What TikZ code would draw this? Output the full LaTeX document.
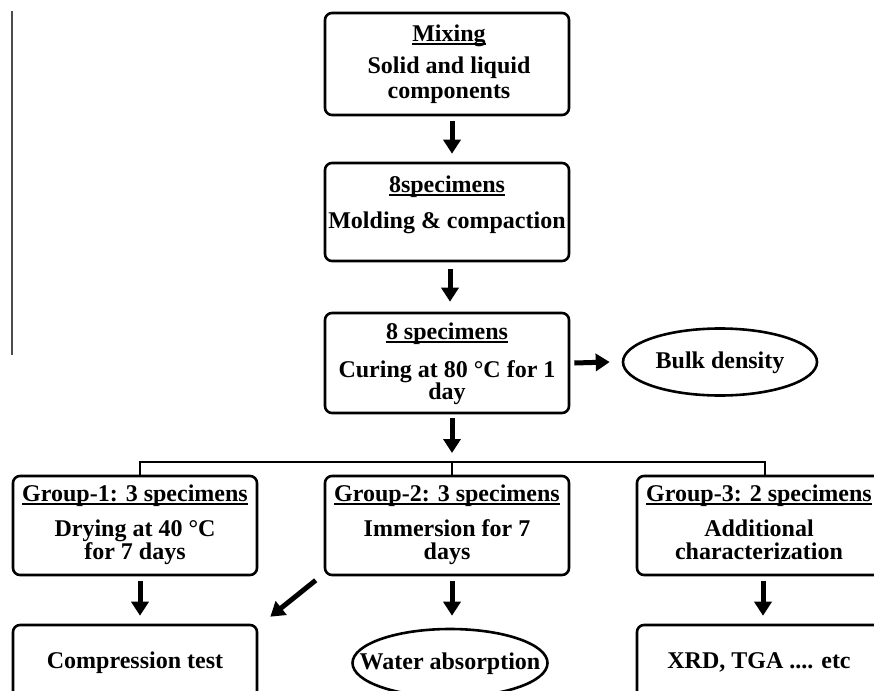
\documentclass[tikz,border=0pt]{standalone}
\usepackage{fontspec}
\setmainfont{Liberation Serif}
\usetikzlibrary{arrows.meta,shapes.geometric}
\newcommand\myul[1]{\setbox0\hbox{#1}\rlap{\rule[-3pt]{\wd0}{1.8pt}}\box0}
\begin{document}
\begin{tikzpicture}[x=1pt,y=-1pt,
  box/.style={draw,line width=2.6pt,rounded corners=7pt,minimum width=244pt,inner sep=0pt},
  oval/.style={draw,ellipse,line width=2.6pt,inner sep=0pt},
  txt/.style={inner sep=0pt,align=center,font=\fontsize{24}{24}\selectfont\bfseries,anchor=north},
  arr/.style={line width=5pt,-{Triangle[width=17pt,length=14pt]}},
  link/.style={line width=2.6pt},
]
\useasboundingbox (0,0) rectangle (874,690);
\clip (0,0) rectangle (874,690);
\fill[white] (0,0) rectangle (874,690);

% stray margin line
\draw[line width=1.5pt,black!70] (12,11) -- (12,355);

% boxes
\node[box,minimum height=102pt] (mix) at (447,64) {};
\node[box,minimum height=98pt] (mold) at (447,212) {};
\node[box,minimum height=100pt] (cure) at (447,363) {};
\node[oval,minimum width=194pt,minimum height=67pt] (bulk) at (720,362) {};
\node[box,minimum height=99pt] (g1) at (135,525.5) {};
\node[box,minimum height=99pt] (g2) at (447,525.5) {};
\node[box,minimum height=99pt] (g3) at (759,525.5) {};
\node[box,minimum height=100pt] (comp) at (135,675) {};
\node[oval,minimum width=195pt,minimum height=68pt] (water) at (450,663) {};
\node[box,minimum height=100pt] (xrd) at (759,675) {};

% texts
\node[txt] (mixt) at (449,25) {\myul{Mixing}\\[8pt]Solid and liquid\\[1pt]components};
\node[txt] (moldt) at (447,176) {\myul{8specimens}\\[12pt]Molding \& compaction};
\node[txt] (curet) at (447,323) {\myul{8 specimens}\\[14pt]Curing at 80 °C for 1\\[-2pt]day};
\node[txt] (bulkt) at (720,352) {Bulk density};
\node[txt] (g1t) at (135,485) {\myul{Group-1: 3 specimens}\\[11pt]Drying at 40 °C\\[-1pt]for 7 days};
\node[txt] (g2t) at (447,485) {\myul{Group-2: 3 specimens}\\[11pt]Immersion for 7\\[-1pt]days};
\node[txt] (g3t) at (759,485) {\myul{Group-3: 2 specimens}\\[11pt]Additional\\[-1pt]characterization};
\node[txt] (compt) at (135,652) {Compression test};
\node[txt] (watert) at (450,653) {Water absorption};
\node[txt] (xrdt) at (759,652) {XRD, TGA .... etc};

% connectors
\coordinate (bus) at (452,462);
\draw[arr] ([xshift=5pt,yshift=-5pt]mix.south) -- ([xshift=5pt,yshift=8pt]mold.north);
\draw[arr] ([xshift=3pt,yshift=-7pt]mold.south) -- ([xshift=3pt,yshift=10pt]cure.north);
\draw[arr] ([xshift=4pt]cure.east) -- ([xshift=-12pt]bulk.west);
\draw[arr] ([xshift=5pt,yshift=-4pt]cure.south) -- ([yshift=9pt]bus);
\draw[link] ([xshift=5pt]g1.north) |- (bus) -| ([xshift=6pt]g3.north);
\draw[link] (bus) -- ([xshift=5pt]g2.north);
\draw[arr] ([xshift=5pt,yshift=-5pt]g1.south) -- ([xshift=5pt,yshift=8pt]comp.north);
\draw[arr] ([xshift=5pt,yshift=-5pt]g2.south) -- ([xshift=2pt,yshift=12pt]water.north);
\draw[arr] ([xshift=4pt,yshift=-5pt]g3.south) -- ([xshift=4pt,yshift=8pt]xrd.north);
\draw[arr] ([xshift=-8pt,yshift=-4pt]g2.south west) -- ([xshift=12pt,yshift=7pt]comp.north east);
\end{tikzpicture}
\end{document}
